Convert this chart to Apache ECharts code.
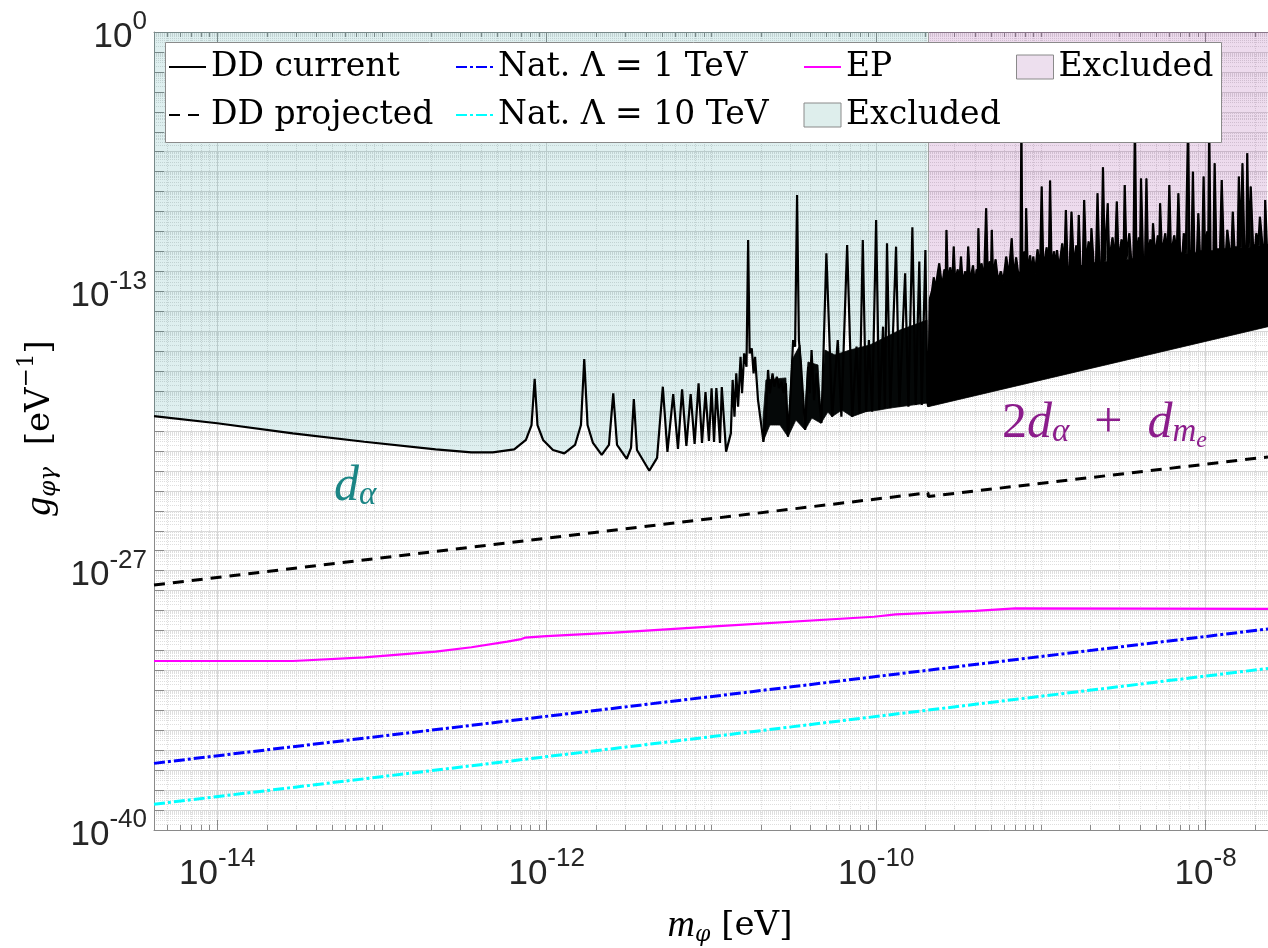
<!DOCTYPE html>
<html><head><meta charset="utf-8">
<script src="https://cdn.jsdelivr.net/npm/echarts@6/dist/echarts.min.js"></script>
<style>html,body{margin:0;padding:0;background:#fff}#c{width:1268px;height:948px}</style>
</head><body><div id="c"></div>
<script>
// ---- axis ranges (log10 of the quantity) ----
const xRange = [-14.384, -7.621];      // log10(m_phi / eV)
const yRange = [-40, 0];               // log10(g / eV^-1)
const xLabelExp = [-14, -12, -10, -8];
const yLabelExp = [0, -13, -27, -40];

// ---- DD current: smooth part + resonances (teal region) [log10 m, log10 g] ----
const ddCurrent = [
[-14.384,-19.25],[-14.000,-19.61],[-13.541,-20.12],[-13.107,-20.54],[-12.674,-20.92],[-12.457,-21.07],[-12.327,-21.07],[-12.197,-20.92],[-12.126,-20.45],[-12.092,-19.70],[-12.073,-17.39],[-12.056,-19.70],[-12.022,-20.45],[-11.962,-20.95],[-11.893,-21.12],[-11.828,-20.70],[-11.792,-19.70],[-11.772,-16.39],[-11.752,-19.70],[-11.719,-20.60],[-11.666,-21.20],[-11.622,-20.70],[-11.596,-18.11],[-11.573,-20.70],[-11.514,-21.40],[-11.488,-20.85],[-11.471,-18.40],[-11.452,-20.95],[-11.377,-21.99],[-11.330,-21.35],[-11.295,-17.78],[-11.267,-21.05],[-11.232,-18.15],[-11.203,-20.90],[-11.178,-17.91],[-11.152,-20.75],[-11.126,-18.15],[-11.102,-20.65],[-11.078,-17.61],[-11.057,-20.60],[-11.036,-18.05],[-11.015,-20.50],[-10.999,-17.86],[-10.984,-20.55],[-10.970,-17.85],[-10.948,-20.60],[-10.937,-17.80],[-10.911,-21.04],[-10.882,-20.12],[-10.871,-17.44],[-10.860,-19.28],[-10.849,-17.11],[-10.838,-18.78],[-10.823,-16.28],[-10.814,-18.11],[-10.801,-16.11],[-10.787,-16.78],[-10.777,-10.43],[-10.768,-16.11],[-10.755,-15.86],[-10.744,-17.11],[-10.735,-16.28],[-10.717,-18.45],[-10.684,-20.54],[-10.669,-19.28],[-10.656,-16.94],[-10.645,-18.11],[-10.629,-17.11],[-10.618,-17.78],[-10.603,-17.28],[-10.590,-17.85],[-10.574,-17.53],[-10.562,-18.10],[-10.548,-17.61],[-10.535,-20.29],[-10.519,-18.11],[-10.504,-15.44],[-10.492,-15.77],[-10.480,-8.17],[-10.469,-15.44],[-10.458,-16.44],[-10.442,-18.45],[-10.431,-19.95],[-10.413,-16.78],[-10.403,-18.11],[-10.392,-15.94],[-10.377,-18.45],[-10.361,-17.11],[-10.332,-19.61],[-10.302,-11.09],[-10.267,-19.28],[-10.233,-15.44],[-10.211,-19.28],[-10.176,-10.68],[-10.145,-19.28],[-10.119,-15.77],[-10.101,-19.11],[-10.081,-10.43],[-10.061,-19.03],[-10.044,-15.44],[-10.024,-19.03],[-10.000,-9.42],[-9.981,-18.95],[-9.958,-14.77],[-9.947,-18.86],[-9.934,-10.59],[-9.914,-18.86],[-9.879,-10.76],[-9.859,-18.78],[-9.824,-12.10],[-9.804,-18.78],[-9.780,-9.79],[-9.760,-18.70],[-9.738,-11.51],[-9.723,-18.70],[-9.701,-10.93],[-9.688,-18.61]
];
// dense oscillation mass in the teal region: upper and lower edges
const leftBandTop = [[-10.687,-19.45],[-10.669,-17.44],[-10.548,-17.34],[-10.535,-19.95],[-10.511,-16.44],[-10.462,-15.69],[-10.438,-19.70],[-10.414,-16.54],[-10.353,-16.69],[-10.335,-19.20],[-10.311,-15.94],[-10.250,-16.19],[-10.159,-15.94],[-10.038,-15.69],[-9.855,-14.94],[-9.691,-14.44]];
const leftBandBottom = [[-10.687,-20.54],[-10.645,-19.70],[-10.584,-19.70],[-10.535,-20.29],[-10.487,-19.45],[-10.432,-19.95],[-10.390,-19.35],[-10.335,-19.61],[-10.293,-19.05],[-10.268,-19.28],[-10.208,-18.95],[-10.147,-19.28],[-10.062,-19.03],[-9.983,-18.95],[-9.916,-18.85],[-9.691,-18.60]];
// DD current upper (spiky) edge in the pink region
const pinkEdge = [
[-9.683,-18.78],[-9.675,-13.40],[-9.661,-13.00],[-9.650,-12.30],[-9.640,-12.90],[-9.617,-11.60],[-9.600,-12.80],[-9.585,-11.90],[-9.578,-12.70],[-9.573,-9.92],[-9.565,-12.60],[-9.550,-11.80],[-9.538,-12.70],[-9.529,-10.76],[-9.520,-12.60],[-9.505,-11.90],[-9.495,-12.70],[-9.485,-11.26],[-9.475,-12.60],[-9.460,-12.00],[-9.450,-12.80],[-9.441,-10.76],[-9.430,-12.60],[-9.412,-11.70],[-9.400,-12.70],[-9.390,-11.90],[-9.384,-12.60],[-9.379,-9.84],[-9.372,-12.50],[-9.360,-11.60],[-9.345,-12.50],[-9.332,-8.84],[-9.322,-12.40],[-9.310,-11.50],[-9.303,-12.50],[-9.298,-9.92],[-9.290,-12.40],[-9.275,-11.40],[-9.260,-12.50],[-9.243,-12.00],[-9.228,-12.50],[-9.210,-11.26],[-9.195,-12.30],[-9.177,-10.34],[-9.165,-12.30],[-9.150,-11.30],[-9.135,-12.30],[-9.124,-12.00],[-9.118,-4.50],[-9.112,-12.20],[-9.100,-11.00],[-9.094,-12.20],[-9.089,-8.84],[-9.080,-12.10],[-9.065,-11.20],[-9.055,-12.20],[-9.046,-11.26],[-9.035,-12.10],[-9.020,-10.90],[-9.005,-12.10],[-8.995,-7.75],[-8.985,-12.00],[-8.965,-10.80],[-8.952,-12.00],[-8.944,-7.45],[-8.935,-11.90],[-8.920,-11.00],[-8.910,-11.90],[-8.902,-10.93],[-8.890,-11.90],[-8.870,-10.60],[-8.858,-11.90],[-8.848,-8.92],[-8.838,-11.80],[-8.825,-11.80],[-8.814,-9.01],[-8.800,-11.80],[-8.785,-10.70],[-8.777,-11.80],[-8.770,-9.17],[-8.760,-11.80],[-8.745,-11.70],[-8.737,-8.42],[-8.725,-11.70],[-8.710,-10.50],[-8.700,-11.70],[-8.693,-9.84],[-8.680,-11.60],[-8.665,-11.60],[-8.656,-8.09],[-8.645,-11.60],[-8.632,-11.60],[-8.623,-6.78],[-8.612,-11.50],[-8.600,-11.50],[-8.594,-8.59],[-8.585,-11.50],[-8.565,-10.30],[-8.550,-11.50],[-8.539,-8.50],[-8.528,-11.50],[-8.510,-10.40],[-8.498,-11.50],[-8.491,-7.67],[-8.480,-11.40],[-8.470,-11.40],[-8.463,-10.09],[-8.452,-11.40],[-8.438,-11.40],[-8.429,-4.50],[-8.420,-11.40],[-8.405,-10.30],[-8.398,-11.40],[-8.392,-7.34],[-8.380,-11.30],[-8.367,-11.30],[-8.359,-7.34],[-8.350,-11.30],[-8.335,-10.40],[-8.326,-11.30],[-8.319,-9.59],[-8.305,-11.30],[-8.290,-10.20],[-8.282,-11.30],[-8.276,-8.59],[-8.265,-11.20],[-8.245,-10.10],[-8.230,-11.20],[-8.220,-7.67],[-8.210,-11.20],[-8.190,-10.20],[-8.175,-11.20],[-8.165,-8.09],[-8.155,-11.10],[-8.140,-11.10],[-8.132,-10.09],[-8.120,-11.10],[-8.112,-11.10],[-8.106,-4.50],[-8.098,-11.10],[-8.085,-11.10],[-8.077,-7.00],[-8.068,-11.10],[-8.052,-11.10],[-8.044,-9.09],[-8.035,-11.00],[-8.020,-11.00],[-8.012,-7.25],[-8.004,-11.00],[-7.990,-10.00],[-7.984,-11.00],[-7.978,-4.50],[-7.970,-11.00],[-7.952,-11.00],[-7.945,-6.58],[-7.935,-10.90],[-7.912,-10.90],[-7.902,-7.42],[-7.890,-10.90],[-7.875,-10.90],[-7.868,-9.92],[-7.855,-10.90],[-7.842,-10.90],[-7.835,-9.01],[-7.825,-10.80],[-7.805,-10.80],[-7.798,-7.25],[-7.787,-10.80],[-7.781,-10.80],[-7.776,-6.58],[-7.765,-10.80],[-7.752,-10.80],[-7.747,-6.08],[-7.738,-10.80],[-7.730,-10.80],[-7.726,-7.75],[-7.712,-10.70],[-7.698,-10.70],[-7.692,-10.09],[-7.680,-10.70],[-7.673,-10.70],[-7.670,-9.26],[-7.655,-10.70],[-7.642,-10.70],[-7.638,-8.42],[-7.628,-10.70],[-7.621,-10.70]
];
// lower envelope of the dense oscillations in the pink region
const pinkLowerEdge = [[-9.683,-18.78],[-7.621,-14.77]];
const pinkBoundary = -9.683;

// ---- other curves ----
const ddProjected = [[-14.384,-27.72],[-9.685,-23.10],[-9.683,-23.28],[-7.621,-21.30]];
const epLimit = [[-14.384,-31.53],[-13.541,-31.53],[-13.107,-31.35],[-12.674,-31.06],[-12.457,-30.84],[-12.240,-30.56],[-12.154,-30.43],[-12.132,-30.36],[-12.002,-30.28],[-11.590,-30.11],[-11.008,-29.81],[-10.013,-29.31],[-9.881,-29.19],[-9.397,-29.02],[-9.155,-28.89],[-7.621,-28.92]];
const nat1TeV = [[-14.384,-36.66],[-11.008,-33.32],[-7.621,-29.92]];
const nat10TeV = [[-14.384,-38.71],[-11.008,-35.33],[-7.621,-31.90]];

// ---- helpers ----
const AX = '#8a8a8a', MAJ = '#d6d6d6', MINC = '#dedede';
const fmtPow = v => '{b|10}{s|' + v + '}';
const tickRich = {
  b: {fontFamily:'Liberation Sans', fontSize:35, color:'#262626', height:36, padding:[10,0,0,0]},
  s: {fontFamily:'Liberation Sans', fontSize:26, color:'#262626', height:26, padding:[0,0,20,0]}
};
function logPositions(lo, hi, includeDecade) {
  const out = [];
  for (let n = Math.floor(lo); n <= Math.ceil(hi); n++) {
    for (let k = 1; k <= 9; k++) {
      if (k === 1 && !includeDecade(n)) continue;
      const v = n + Math.log10(k);
      if (v >= lo && v <= hi) out.push(+v.toFixed(6));
    }
  }
  return out;
}
const xMinor = logPositions(xRange[0], xRange[1], n => !xLabelExp.includes(n));
const yMinor = logPositions(yRange[0], yRange[1], n => false);
const yTicks = []; for (let n = yRange[0]; n <= yRange[1]; n++) yTicks.push(n);

function polygonSeries(name, top, bottom, color) {
  const pts = top.concat(bottom.slice().reverse());
  return {
    type:'custom', name, silent:true, z:2, xAxisIndex:0, yAxisIndex:0,
    data:[top[0]],
    renderItem:(params, api) => ({
      type:'polygon',
      shape:{points: pts.map(p => api.coord(p))},
      style:{fill:color, stroke:color, lineWidth:0.8}
    })
  };
}

const gridBox = {left:154, right:0, top:32, bottom:118, outerBoundsMode:'none'};
const baseX = {type:'value', min:xRange[0], max:xRange[1]};
const baseY = {type:'value', min:yRange[0], max:yRange[1]};

const legendText = {fontFamily:'DejaVu Serif', fontSize:33, color:'#000', lineHeight:36};
const legendCommon = {orient:'vertical', top:49, padding:0, itemGap:12, itemWidth:37, itemHeight:24,
  textStyle:legendText, selectedMode:false, z:20, itemStyle:{opacity:0}};

const chart = echarts.init(document.getElementById('c'));
chart.setOption({
  animation:false,
  backgroundColor:'#fff',
  grid:[Object.assign({}, gridBox), Object.assign({}, gridBox)],
  xAxis:[
    Object.assign({gridIndex:0, position:'bottom',
      axisLine:{show:true, onZero:false, lineStyle:{color:AX, width:1}},
      axisTick:{show:true, inside:true, length:10, customValues:xLabelExp, lineStyle:{color:AX}},
      axisLabel:{show:true, customValues:xLabelExp, formatter:fmtPow, margin:16, rich:tickRich},
      splitLine:{show:true, lineStyle:{color:MAJ, width:1}}}, baseX),
    Object.assign({gridIndex:0, position:'top',
      axisLine:{show:true, onZero:false, lineStyle:{color:AX, width:1}},
      axisTick:{show:true, inside:true, length:10, customValues:xLabelExp, lineStyle:{color:AX}},
      axisLabel:{show:false}, splitLine:{show:false}}, baseX),
    Object.assign({gridIndex:1, position:'bottom',
      axisLine:{show:false, onZero:false},
      axisTick:{show:true, inside:true, length:5, customValues:xMinor, lineStyle:{color:AX}},
      axisLabel:{show:false},
      splitLine:{show:true, lineStyle:{color:MINC, width:1, type:'dotted'}}}, baseX),
    Object.assign({gridIndex:1, position:'top',
      axisLine:{show:false, onZero:false},
      axisTick:{show:true, inside:true, length:5, customValues:xMinor, lineStyle:{color:AX}},
      axisLabel:{show:false}, splitLine:{show:false}}, baseX)
  ],
  yAxis:[
    Object.assign({gridIndex:0, position:'left',
      axisLine:{show:true, onZero:false, lineStyle:{color:AX, width:1}},
      axisTick:{show:true, inside:true, length:10, customValues:yTicks, lineStyle:{color:AX}},
      axisLabel:{show:true, customValues:yLabelExp, formatter:fmtPow, margin:7, rich:tickRich},
      splitLine:{show:true, lineStyle:{color:MAJ, width:1}}}, baseY),
    Object.assign({gridIndex:1, position:'left',
      axisLine:{show:false, onZero:false},
      axisTick:{show:false, customValues:yMinor},
      axisLabel:{show:false},
      splitLine:{show:true, lineStyle:{color:MINC, width:1, type:'dotted'}}}, baseY)
  ],
  legend:[
    Object.assign({}, legendCommon, {left:168, data:['DD current','DD projected']}),
    Object.assign({}, legendCommon, {left:455, data:['Nat. Λ = 1 TeV','Nat. Λ = 10 TeV']}),
    Object.assign({}, legendCommon, {left:803, data:['EP',
      {name:'Excluded', icon:'rect', itemStyle:{opacity:1, color:'#deeeec', borderColor:'#8a8a8a', borderWidth:1}}]}),
    Object.assign({}, legendCommon, {left:1016, data:[
      {name:'Excluded ', icon:'rect', itemStyle:{opacity:1, color:'#eddfee', borderColor:'#8a8a8a', borderWidth:1}}]})
  ],
  graphic:[
    {type:'rect', z:10, silent:true, shape:{x:165.5, y:42.5, width:1056, height:100},
      style:{fill:'#fff', stroke:'#8a8a8a', lineWidth:1}},
    {type:'text', z:10, silent:true, x:730, y:926,
      style:{text:'{i|m}{sub|φ}{n| [eV]}', align:'center', verticalAlign:'middle',
        rich:{
          i:{fontFamily:'Liberation Serif', fontStyle:'italic', fontSize:38, height:36, padding:[5,0,5,0], fill:'#000'},
          n:{fontFamily:'DejaVu Serif', fontSize:34, height:36, padding:[5,0,5,0], fill:'#000'},
          sub:{fontFamily:'DejaVu Serif', fontStyle:'italic', fontSize:22, height:22, padding:[21,0,3,0], fill:'#000'}
        }}},
    {type:'text', z:10, silent:true, x:40, y:428, rotation:Math.PI/2,
      style:{text:'{i|g}{sub|φγ}{n|  [eV}{sup|−1}{n|]}', align:'center', verticalAlign:'middle',
        rich:{
          i:{fontFamily:'Liberation Serif', fontStyle:'italic', fontSize:38, height:36, padding:[6,0,6,0], fill:'#000'},
          n:{fontFamily:'DejaVu Serif', fontSize:34, height:36, padding:[6,0,6,0], fill:'#000'},
          sub:{fontFamily:'DejaVu Serif', fontStyle:'italic', fontSize:23, height:23, padding:[22,0,3,0], fill:'#000'},
          sup:{fontFamily:'DejaVu Serif', fontSize:23, height:23, padding:[0,0,25,0], fill:'#000'}
        }}},
    {type:'text', z:10, silent:true, x:334, y:487,
      style:{text:'{i|d}{sub|α}', align:'left', verticalAlign:'middle',
        rich:{
          i:{fontFamily:'Liberation Serif', fontStyle:'italic', fontSize:50, height:50, padding:[4,0,4,0], fill:'#1b8585'},
          sub:{fontFamily:'Liberation Serif', fontStyle:'italic', fontSize:33, height:33, padding:[21,0,4,0], fill:'#1b8585'}
        }}},
    {type:'text', z:10, silent:true, x:1002, y:424,
      style:{text:'{n|2}{i|d}{sub|α}{n|  +  }{i|d}{sub|m}{ss|e}', align:'left', verticalAlign:'middle',
        rich:{
          n:{fontFamily:'Liberation Serif', fontSize:50, height:50, padding:[4,0,4,0], fill:'#8b1c8b'},
          i:{fontFamily:'Liberation Serif', fontStyle:'italic', fontSize:50, height:50, padding:[4,0,4,0], fill:'#8b1c8b'},
          sub:{fontFamily:'Liberation Serif', fontStyle:'italic', fontSize:33, height:33, padding:[21,0,4,0], fill:'#8b1c8b'},
          ss:{fontFamily:'Liberation Serif', fontStyle:'italic', fontSize:24, height:24, padding:[34,0,0,0], fill:'#8b1c8b'}
        }}}
  ],
  series:[
    {name:'Excluded', type:'line', z:1, xAxisIndex:0, yAxisIndex:0, data:ddCurrent,
      symbol:'none', silent:true, lineStyle:{width:0, opacity:0},
      itemStyle:{color:'#deeeec'},
      areaStyle:{color:'rgba(0,128,128,0.13)', origin:'end', opacity:1}},
    {name:'Excluded ', type:'line', z:1, xAxisIndex:0, yAxisIndex:0, data:pinkEdge,
      symbol:'none', silent:true, lineStyle:{width:0, opacity:0},
      itemStyle:{color:'#eddfee'},
      areaStyle:{color:'rgba(128,0,128,0.14)', origin:'end', opacity:1},
      markLine:{silent:true, symbol:'none', label:{show:false},
        lineStyle:{color:'#a0a0a0', width:1, type:'solid'},
        data:[[{coord:[pinkBoundary, yRange[1]]},{coord:[pinkBoundary, pinkEdge[1][1]]}]]}},
    polygonSeries('bandLeft', leftBandTop, leftBandBottom, '#050808'),
    polygonSeries('bandRight', pinkEdge, pinkLowerEdge, '#000000'),
    {name:'DD current', type:'line', z:3, xAxisIndex:0, yAxisIndex:0,
      data:ddCurrent.concat(pinkEdge), symbol:'none', silent:true,
      itemStyle:{color:'#000'}, lineStyle:{color:'#000', width:2.2}},
    {name:'DD projected', type:'line', z:3, xAxisIndex:0, yAxisIndex:0, data:ddProjected,
      symbol:'none', silent:true, itemStyle:{color:'#000'},
      lineStyle:{color:'#000', width:3, type:[11,8]}},
    {name:'Nat. Λ = 1 TeV', type:'line', z:3, xAxisIndex:0, yAxisIndex:0, data:nat1TeV,
      symbol:'none', silent:true, itemStyle:{color:'#0000ff'},
      lineStyle:{color:'#0000ff', width:3, type:[11,3,3,3]}},
    {name:'Nat. Λ = 10 TeV', type:'line', z:3, xAxisIndex:0, yAxisIndex:0, data:nat10TeV,
      symbol:'none', silent:true, itemStyle:{color:'#00ffff'},
      lineStyle:{color:'#00ffff', width:3, type:[11,3,3,3]}},
    {name:'EP', type:'line', z:3, xAxisIndex:0, yAxisIndex:0, data:epLimit,
      symbol:'none', silent:true, itemStyle:{color:'#ff00ff'},
      lineStyle:{color:'#ff00ff', width:2.2}}
  ]
});
</script></body></html>
